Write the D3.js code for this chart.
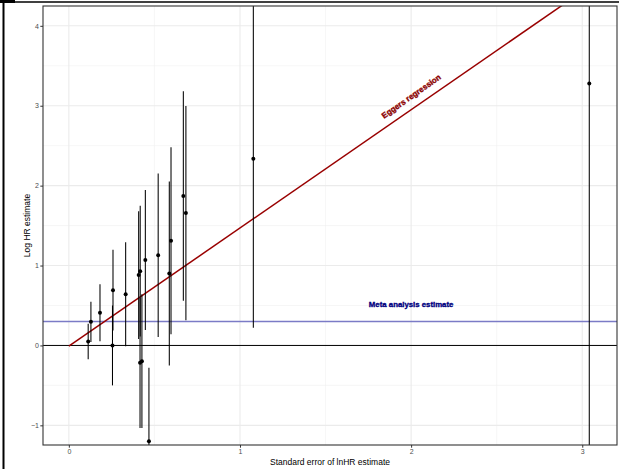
<!DOCTYPE html>
<html>
<head>
<meta charset="utf-8">
<script src="https://cdn.jsdelivr.net/npm/d3@7"></script>
<style>
body { margin: 0; background: #fff; }
svg { display: block; font-family: "Liberation Sans", Arial, Helvetica, sans-serif; }
</style>
</head>
<body>
<div class="chart-container"></div>
<script>
// funnel style plot: log HR vs its standard error, CI bars are est +/- 1.96*se

var se = [0.113, 0.129, 0.182, 0.258, 0.255, 0.332, 0.408, 0.417, 0.416, 0.427, 0.447, 0.468, 0.522, 0.587, 0.597, 0.669, 0.684, 1.078, 3.041]
var est = [0.05, 0.295, 0.408, 0.692, 0.0, 0.642, 0.880, 0.930, -0.218, -0.197, 1.068, -1.198, 1.13, 0.90, 1.31, 1.869, 1.656, 2.335, 3.279]

var xTicks = [0, 1, 2, 3]
var yTicks = [-1, 0, 1, 2, 3, 4]
var xMinor = [0.5, 1.5, 2.5]
var yMinor = [-0.5, 0.5, 1.5, 2.5, 3.5]

var metaEstimate = 0.30
var eggerIntercept = -0.01
var eggerSlope = 1.48

var width = 619
var height = 469

var margins = {
top: 6,
bottom: 24,
left: 43,
right: 2
}

var svg = d3.select(".chart-container")
.append("svg")
.attr("width", width)
.attr("height", height)

var x = d3.scaleLinear().domain([-0.151, 3.203]).range([margins.left, width - margins.right])
var y = d3.scaleLinear().domain([-1.246, 4.248]).range([height - margins.bottom, margins.top])

var x0 = margins.left, x1 = width - margins.right
var y0 = margins.top, y1 = height - margins.bottom

svg.append("defs").append("clipPath").attr("id", "panel")
.append("rect").attr("x", x0).attr("y", y0).attr("width", x1 - x0).attr("height", y1 - y0)

// grid
var grid = svg.append("g")
grid.selectAll(".minx").data(xMinor).enter().append("line")
.attr("x1", d => x(d)).attr("x2", d => x(d)).attr("y1", y0).attr("y2", y1)
.attr("stroke", "#f0f0f0").attr("stroke-width", 0.6)
grid.selectAll(".miny").data(yMinor).enter().append("line")
.attr("y1", d => y(d)).attr("y2", d => y(d)).attr("x1", x0).attr("x2", x1)
.attr("stroke", "#f0f0f0").attr("stroke-width", 0.6)
grid.selectAll(".majx").data(xTicks).enter().append("line")
.attr("x1", d => x(d)).attr("x2", d => x(d)).attr("y1", y0).attr("y2", y1)
.attr("stroke", "#ebebeb").attr("stroke-width", 1.1)
grid.selectAll(".majy").data(yTicks).enter().append("line")
.attr("y1", d => y(d)).attr("y2", d => y(d)).attr("x1", x0).attr("x2", x1)
.attr("stroke", "#ebebeb").attr("stroke-width", 1.1)

var plot = svg.append("g").attr("clip-path", "url(#panel)")

// zero line and meta analysis estimate
plot.append("line")
.attr("x1", x0).attr("x2", x1).attr("y1", y(0)).attr("y2", y(0))
.attr("stroke", "#000").attr("stroke-width", 1)
plot.append("line")
.attr("x1", x0).attr("x2", x1).attr("y1", y(metaEstimate)).attr("y2", y(metaEstimate))
.attr("stroke", "#7b7bc6").attr("stroke-width", 1.6)

// Egger regression line
var seMax = d3.max(se)
plot.append("line")
.attr("x1", x(0)).attr("y1", y(eggerIntercept))
.attr("x2", x(seMax)).attr("y2", y(eggerIntercept + eggerSlope * seMax))
.attr("stroke", "#990000").attr("stroke-width", 1.5)

// CI bars
var studies = se.map(function(s, i){ return {se: s, est: est[i]} })
plot.selectAll(".bar").data(studies).enter().append("line")
.attr("x1", d => x(d.se)).attr("x2", d => x(d.se))
.attr("y1", d => y(d.est - 1.96 * d.se)).attr("y2", d => y(d.est + 1.96 * d.se))
.attr("stroke", "#000").attr("stroke-width", 1.05)

plot.selectAll(".pt").data(studies).enter().append("circle")
.attr("cx", d => x(d.se)).attr("cy", d => y(d.est)).attr("r", 2)
.attr("fill", "#000")

// labels
svg.append("text")
.attr("transform", "translate(" + (x(2.01)) + "," + (y(3.09)) + ") rotate(-35)")
.attr("text-anchor", "middle")
.attr("font-size", 8).attr("font-weight", "bold").attr("fill", "#8b0000")
.attr("stroke", "#8b0000").attr("stroke-width", 0.35)
.text("Eggers regression")

svg.append("text")
.attr("x", x(2.0)).attr("y", y(0.48))
.attr("text-anchor", "middle")
.attr("font-size", 7.8).attr("font-weight", "bold").attr("fill", "#000080")
.attr("stroke", "#000080").attr("stroke-width", 0.35)
.text("Meta analysis estimate")

// panel border
svg.append("rect")
.attr("x", x0).attr("y", y0).attr("width", x1 - x0).attr("height", y1 - y0)
.attr("fill", "none").attr("stroke", "#333").attr("stroke-width", 1.1)

// axes
var xAxis = svg.append("g").attr("transform", "translate(0," + y1 + ")")
.call(d3.axisBottom(x).tickValues(xTicks).tickSize(2.7).tickFormat(d3.format("d")))
var yAxis = svg.append("g").attr("transform", "translate(" + x0 + ",0)")
.call(d3.axisLeft(y).tickValues(yTicks).tickSize(2.7).tickFormat(d => d < 0 ? "\u2212" + (-d) : d))

svg.selectAll(".domain").remove()
svg.selectAll(".tick line").attr("stroke", "#333").attr("stroke-width", 1)
svg.selectAll(".tick text").attr("fill", "#4d4d4d").attr("font-size", 7)
.attr("font-family", "Liberation Sans, Arial, sans-serif")
xAxis.selectAll(".tick text").attr("dy", "0.9em").attr("y", 3)
yAxis.selectAll(".tick text").attr("x", -4)

svg.append("text")
.attr("x", (x0 + x1) / 2).attr("y", 465)
.attr("text-anchor", "middle").attr("font-size", 8.5).attr("fill", "#000")
.text("Standard error of lnHR estimate")

svg.append("text")
.attr("transform", "translate(30," + ((y0 + y1) / 2) + ") rotate(-90)")
.attr("text-anchor", "middle").attr("font-size", 8.5).attr("fill", "#000")
.text("Log HR estimate")

// outer frame
svg.append("rect").attr("x", 0).attr("y", 0).attr("width", 15).attr("height", 3).attr("fill", "#000")
svg.append("line").attr("x1", 3.5).attr("x2", 3.5).attr("y1", 0).attr("y2", height)
.attr("stroke", "#000").attr("stroke-width", 2)
svg.append("line").attr("x1", 0).attr("x2", width).attr("y1", 2).attr("y2", 2)
.attr("stroke", "#000").attr("stroke-width", 1.5)
</script>
</body>
</html>
